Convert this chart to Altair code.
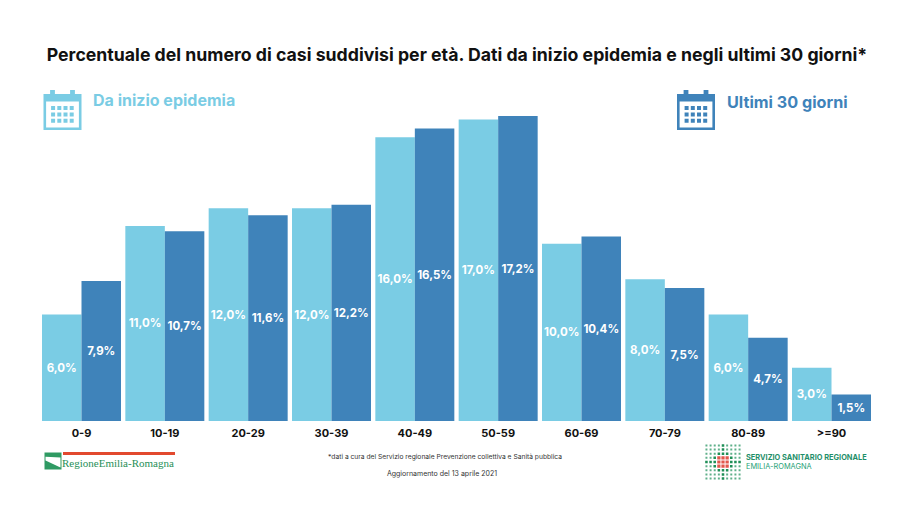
import altair as alt
import pandas as pd

ages = ["0-9", "10-19", "20-29", "30-39", "40-49", "50-59", "60-69", "70-79", "80-89", ">=90"]
inizio = [6.0, 11.0, 12.0, 12.0, 16.0, 17.0, 10.0, 8.0, 6.0, 3.0]
ultimi = [7.9, 10.7, 11.6, 12.2, 16.5, 17.2, 10.4, 7.5, 4.7, 1.5]
SERIES = ["Da inizio epidemia", "Ultimi 30 giorni"]
LIGHT = "#7accE4"
DARK = "#3f83ba"
FONT = "Inter"

rows = []
for a, i, u in zip(ages, inizio, ultimi):
    rows.append({"age": a, "s": SERIES[0], "v": i, "mid": i / 2, "lab": f"{i:.1f}%".replace(".", ",")})
    rows.append({"age": a, "s": SERIES[1], "v": u, "mid": u / 2, "lab": f"{u:.1f}%".replace(".", ",")})
df = pd.DataFrame(rows)

W, H = 829, 321
OX, OY = 34, 92  # plot origin on the chart canvas


def px(x):
    return x - 8 - OX


def py(y):
    return y - 8 - OY


x_enc = alt.X("age:N", sort=ages, title=None,
              scale=alt.Scale(paddingInner=0.052, paddingOuter=0),
              axis=alt.Axis(domain=False, ticks=False, labelAngle=0, labelFont=FONT, labelFontWeight=700,
                            labelFontSize=11, labelColor="#111111", labelPadding=6, grid=False))
y_enc = alt.Y("v:Q", axis=None, scale=alt.Scale(domain=[0, H / 17.73], nice=False))
off = alt.XOffset("s:N", sort=SERIES, scale=alt.Scale(paddingInner=0, paddingOuter=0))
col = alt.Color("s:N", sort=SERIES, legend=None, scale=alt.Scale(domain=SERIES, range=[LIGHT, DARK]))

bars = alt.Chart(df).mark_bar(cornerRadius=0).encode(x=x_enc, xOffset=off, y=y_enc, color=col)
labels = alt.Chart(df).mark_text(font=FONT, fontWeight=700, fontSize=11.5, color="white", baseline="middle", dy=1).encode(
    x=x_enc, xOffset=off, y=alt.Y("mid:Q", axis=None, scale=alt.Scale(domain=[0, H / 17.73], nice=False)), text="lab:N")


def txt(t, x, y, size, color="#111111", weight=400, align="left", font=FONT):
    return alt.Chart(pd.DataFrame({"t": [t]})).mark_text(
        font=font, fontSize=size, fontWeight=weight, color=color, align=align, baseline="middle"
    ).encode(x=alt.value(px(x)), y=alt.value(py(y)), text="t:N")


def sym(path, x, y, w, color):
    return alt.Chart(pd.DataFrame({"k": [0]})).mark_point(
        shape=path, size=w * w, filled=True, fill=color, stroke=None, opacity=1
    ).encode(x=alt.value(px(x)), y=alt.value(py(y)))


def rect(a, b, c, d):
    return f"M{a:.3f} {b:.3f}H{c:.3f}V{d:.3f}H{a:.3f}Z"


def hole(a, b, c, d):
    return f"M{a:.3f} {b:.3f}V{d:.3f}H{c:.3f}V{b:.3f}Z"


# calendar icon, unit square -1..1 (40px wide)
cal = rect(-0.95, -0.8, 0.95, 1.0) + hole(-0.82, -0.42, 0.82, 0.87)
cal += rect(-0.62, -1.0, -0.38, -0.62) + rect(0.38, -1.0, 0.62, -0.62)
for r in range(3):
    for c in range(4):
        xx = -0.57 + c * 0.31
        yy = -0.2 + r * 0.32
        cal += rect(xx, yy, xx + 0.2, yy + 0.2)

# flag of the Regione logo
flag_g = rect(-1, -1, 1, 1)
flag_w = "M-0.88 -0.5L0.88 -0.42L0.88 0.75L-0.88 -0.05Z"

# dotted logo
dots_g, dots_l, dots_r = "", "", ""
for r in range(9):
    for c in range(9):
        xx = -0.92 + c * 0.23
        yy = -0.92 + r * 0.23
        s = 0.055
        dr, dc = abs(r - 4), abs(c - 4)
        if dr <= 1 and dc <= 1:
            dots_r += rect(xx - 0.09, yy - 0.09, xx + 0.09, yy + 0.09)
        elif dr + dc <= 4 and (dr == 0 or dc == 0 or dr + dc <= 3):
            dots_g += rect(xx - 0.07, yy - 0.07, xx + 0.07, yy + 0.07)
        else:
            dots_l += rect(xx - s, yy - s, xx + s, yy + s)

title = txt("Percentuale del numero di casi suddivisi per età. Dati da inizio epidemia e negli ultimi 30 giorni*",
            457, 56, 17.7, "#111111", 700, "center")

layers = [
    bars, labels, title,
    sym(cal, 62.5, 110, 40, LIGHT), txt(SERIES[0], 93, 101, 16, LIGHT, 700),
    sym(cal, 696, 110, 40, DARK), txt(SERIES[1], 727, 103, 16.2, DARK, 700),
    sym(flag_g, 53, 461, 17, "#2f9a63"), sym(flag_w, 53, 461, 17, "#ffffff"),
    alt.Chart(pd.DataFrame({"k": [0]})).mark_rect(color="#e2492f").encode(
        x=alt.value(px(63)), x2=alt.value(px(175)), y=alt.value(py(452)), y2=alt.value(py(455))),
    txt("RegioneEmilia-Romagna", 62, 464, 11, "#1f8f57", 400, font="Liberation Serif"),
    txt("*dati a cura del Servizio regionale Prevenzione collettiva e Sanità pubblica", 445, 457, 6.7, "#333333", 400, "center"),
    txt("Aggiornamento del 13 aprile 2021", 442, 474, 7, "#333333", 400, "center"),
    sym(dots_l, 723, 462, 36, "#5fb08a"), sym(dots_g, 723, 462, 36, "#1f8f57"), sym(dots_r, 723, 462, 36, "#e2574c"),
    txt("SERVIZIO SANITARIO REGIONALE", 746, 458, 7.4, "#1f8f6a", 700),
    txt("EMILIA-ROMAGNA", 746, 467, 7.4, "#1f9f78", 400),
]

chart = alt.layer(*layers).properties(
    width=W, height=H,
    padding={"left": OX, "top": OY, "right": 21, "bottom": 77},
    autosize=alt.AutoSizeParams(type="none"),
    background="white",
).configure_view(stroke=None)

chart.save("out.html", embed_options={"renderer": "svg", "actions": False})
